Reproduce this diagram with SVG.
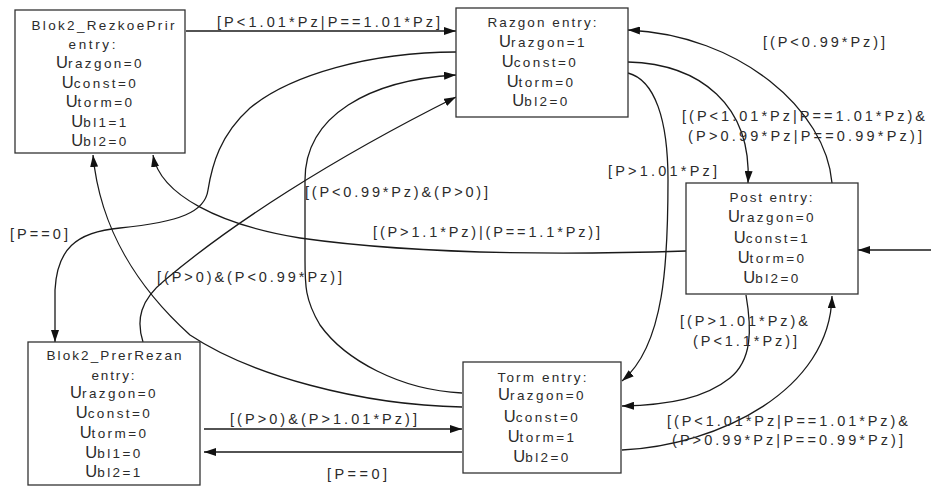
<svg xmlns="http://www.w3.org/2000/svg" width="931" height="488" viewBox="0 0 931 488">
<style>
text{font-family:"Liberation Sans",Arial,sans-serif;fill:#2b2b2b}
.box{fill:#fff;stroke:#333;stroke-width:1.3}
.h{font-size:13.5px;text-anchor:middle}
.v{font-size:13.5px;text-anchor:middle;letter-spacing:2.4px}
.u{font-size:16.5px;letter-spacing:0}
.lb{font-size:14.5px}
.c path{fill:none;stroke:#1a1a1a;stroke-width:1.3}
</style>
<defs>
<marker id="ah" viewBox="0 0 12 8" refX="12" refY="4" markerWidth="12" markerHeight="8" markerUnits="userSpaceOnUse" orient="auto"><path d="M0,0 L12,4 L0,8 z" fill="#111"/></marker>
</defs>
<rect width="931" height="488" fill="#fff"/>
<g class="c" id="connectors">
<path d="M186,31 L456,31" marker-end="url(#ah)"/>
<path d="M628,62 C700,64 752,105 748,183" marker-end="url(#ah)"/>
<path d="M832,183 C826,110 740,35 628,30" marker-end="url(#ah)"/>
<path d="M628,73 C655,80 668,120 668,180 C668,260 665,345 622,381" marker-end="url(#ah)"/>
<path d="M746,295 C752,330 752,360 730,378 C705,398 670,405 622,406" marker-end="url(#ah)"/>
<path d="M622,450 C720,445 830,390 832,296" marker-end="url(#ah)"/>
<path d="M686,251 C560,255 420,255 300,238 C220,225 160,195 153,155" marker-end="url(#ah)"/>
<path d="M462,407 C360,405 250,375 190,335 C140,290 100,230 93,155" marker-end="url(#ah)"/>
<path d="M462,393 C400,390 345,360 320,325 C305,300 305,285 305,260 L305,180 C305,115 370,80 456,75" marker-end="url(#ah)"/>
<path d="M456,52 C370,52 290,75 250,108 C220,135 212,165 208,190 C205,212 180,222 120,228 C75,232 57,250 55,290 L55,342" marker-end="url(#ah)"/>
<path d="M143,342 C136,320 140,300 165,280 C230,225 330,160 456,97" marker-end="url(#ah)"/>
<path d="M204,429 L462,429" marker-end="url(#ah)"/>
<path d="M462,452 L204,452" marker-end="url(#ah)"/>
<path d="M931,250 L858,250" marker-end="url(#ah)"/>
</g>
<g id="labels">
<text class="lb" x="217" y="27" textLength="223" lengthAdjust="spacing">[P&lt;1.01*Pz|P==1.01*Pz]</text>
<text class="lb" x="763" y="47" textLength="122" lengthAdjust="spacing">[(P&lt;0.99*Pz)]</text>
<text class="lb" x="682" y="121" textLength="243" lengthAdjust="spacing">[(P&lt;1.01*Pz|P==1.01*Pz)&amp;</text>
<text class="lb" x="688" y="141" textLength="234" lengthAdjust="spacing">(P&gt;0.99*Pz|P==0.99*Pz)]</text>
<text class="lb" x="608" y="176" textLength="109" lengthAdjust="spacing">[P&gt;1.01*Pz]</text>
<text class="lb" x="305" y="197" textLength="183" lengthAdjust="spacing">[(P&lt;0.99*Pz)&amp;(P&gt;0)]</text>
<text class="lb" x="373" y="237" textLength="227" lengthAdjust="spacing">[(P&gt;1.1*Pz)|(P==1.1*Pz)]</text>
<text class="lb" x="10" y="239" textLength="58" lengthAdjust="spacing">[P==0]</text>
<text class="lb" x="157" y="282" textLength="185" lengthAdjust="spacing">[(P&gt;0)&amp;(P&lt;0.99*Pz)]</text>
<text class="lb" x="680" y="326" textLength="128" lengthAdjust="spacing">[(P&gt;1.01*Pz)&amp;</text>
<text class="lb" x="693" y="346" textLength="104" lengthAdjust="spacing">(P&lt;1.1*Pz)]</text>
<text class="lb" x="230" y="424" textLength="187" lengthAdjust="spacing">[(P&gt;0)&amp;(P&gt;1.01*Pz)]</text>
<text class="lb" x="327" y="479" textLength="60" lengthAdjust="spacing">[P==0]</text>
<text class="lb" x="667" y="426" textLength="241" lengthAdjust="spacing">[(P&lt;1.01*Pz|P==1.01*Pz)&amp;</text>
<text class="lb" x="672" y="445" textLength="231" lengthAdjust="spacing">(P&gt;0.99*Pz|P==0.99*Pz)]</text>
</g>
<g id="Blok2_RezkoePrir">
<rect class="box" x="15" y="10" width="170" height="143"/>
<text class="h" x="103" y="30" textLength="143" lengthAdjust="spacing">Blok2_RezkoePrir</text>
<text class="h" x="92" y="49" textLength="47" lengthAdjust="spacing">entry:</text>
<text class="v" x="100" y="68"><tspan class="u">U</tspan>razgon=0</text>
<text class="v" x="100" y="88"><tspan class="u">U</tspan>const=0</text>
<text class="v" x="100" y="107"><tspan class="u">U</tspan>torm=0</text>
<text class="v" x="100" y="127"><tspan class="u">U</tspan>bl1=1</text>
<text class="v" x="100" y="146"><tspan class="u">U</tspan>bl2=0</text>
</g>
<g id="Razgon">
<rect class="box" x="456" y="8" width="172" height="109"/>
<text class="h" x="542" y="27" textLength="109" lengthAdjust="spacing">Razgon entry:</text>
<text class="v" x="543" y="47"><tspan class="u">U</tspan>razgon=1</text>
<text class="v" x="540" y="67"><tspan class="u">U</tspan>const=0</text>
<text class="v" x="541" y="87"><tspan class="u">U</tspan>torm=0</text>
<text class="v" x="541" y="106"><tspan class="u">U</tspan>bl2=0</text>
</g>
<g id="Post">
<rect class="box" x="686" y="183" width="172" height="111"/>
<text class="h" x="771" y="202" textLength="83" lengthAdjust="spacing">Post entry:</text>
<text class="v" x="772" y="222"><tspan class="u">U</tspan>razgon=0</text>
<text class="v" x="772" y="243"><tspan class="u">U</tspan>const=1</text>
<text class="v" x="772" y="263"><tspan class="u">U</tspan>torm=0</text>
<text class="v" x="772" y="283"><tspan class="u">U</tspan>bl2=0</text>
</g>
<g id="Blok2_PrerRezan">
<rect class="box" x="28" y="342" width="172" height="143"/>
<text class="h" x="114" y="360" textLength="135" lengthAdjust="spacing">Blok2_PrerRezan</text>
<text class="h" x="113" y="380" textLength="43" lengthAdjust="spacing">entry:</text>
<text class="v" x="114" y="398"><tspan class="u">U</tspan>razgon=0</text>
<text class="v" x="114" y="418"><tspan class="u">U</tspan>const=0</text>
<text class="v" x="114" y="438"><tspan class="u">U</tspan>torm=0</text>
<text class="v" x="114" y="458"><tspan class="u">U</tspan>bl1=0</text>
<text class="v" x="114" y="477"><tspan class="u">U</tspan>bl2=1</text>
</g>
<g id="Torm">
<rect class="box" x="463" y="362" width="158" height="111"/>
<text class="h" x="542" y="382" textLength="89" lengthAdjust="spacing">Torm entry:</text>
<text class="v" x="542" y="400"><tspan class="u">U</tspan>razgon=0</text>
<text class="v" x="542" y="422"><tspan class="u">U</tspan>const=0</text>
<text class="v" x="542" y="442"><tspan class="u">U</tspan>torm=1</text>
<text class="v" x="542" y="462"><tspan class="u">U</tspan>bl2=0</text>
</g>
</svg>
